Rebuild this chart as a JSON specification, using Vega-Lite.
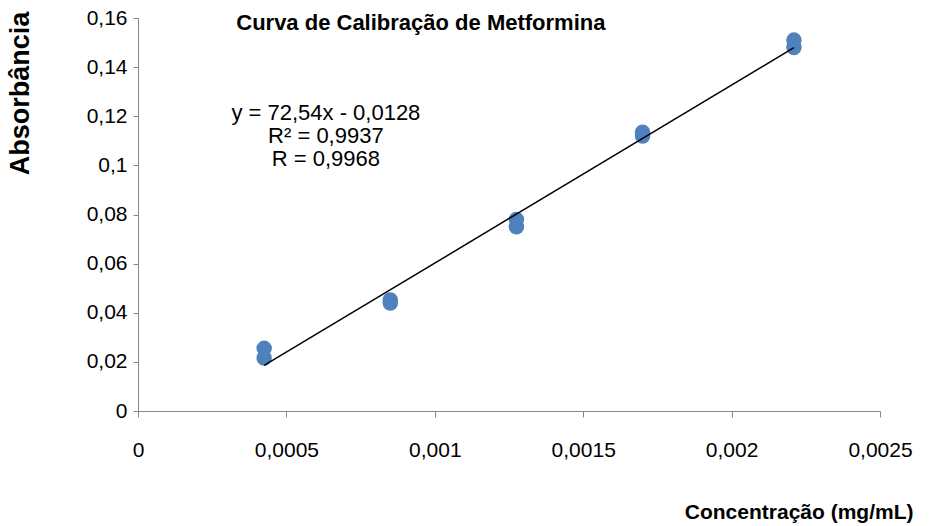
{
  "$schema": "https://vega.github.io/schema/vega-lite/v6.json",
  "autosize": {"type": "none"},
  "width": 742,
  "height": 393,
  "padding": {"left": 138, "top": 18, "right": 51, "bottom": 115},
  "background": "white",
  "config": {
    "font": "Liberation Sans",
    "view": {"stroke": null},
    "axis": {"grid": false, "domainColor": "#868686", "tickColor": "#868686", "labelColor": "#000000", "labelFont": "Liberation Sans", "labelFontSize": 21, "titleFont": "Liberation Sans", "titleFontSize": 21, "titleFontWeight": "bold", "titleColor": "#000000", "labelFlush": false, "labelOverlap": false}
  },
  "datasets": {
    "pts": [
      {"conc": 0.000425, "abs": 0.0255},
      {"conc": 0.000425, "abs": 0.0216},
      {"conc": 0.00085, "abs": 0.0452},
      {"conc": 0.00085, "abs": 0.0440},
      {"conc": 0.001275, "abs": 0.0780},
      {"conc": 0.001275, "abs": 0.0750},
      {"conc": 0.0017, "abs": 0.1135},
      {"conc": 0.0017, "abs": 0.1120},
      {"conc": 0.00221, "abs": 0.1510},
      {"conc": 0.00221, "abs": 0.1480}
    ],
    "notes": [
      {"conc": 0.000633, "abs": 0.1213, "txt": "y = 72,54x - 0,0128"},
      {"conc": 0.000633, "abs": 0.1120, "txt": "R² = 0,9937"},
      {"conc": 0.000633, "abs": 0.1026, "txt": "R = 0,9968"}
    ],
    "title": [
      {"conc": 0.000953, "abs": 0.1580, "txt": "Curva de Calibração de Metformina"}
    ]
  },
  "layer": [
    {
      "data": {"name": "pts"},
      "mark": {"type": "circle", "size": 240, "color": "#4F81BD", "opacity": 1},
      "encoding": {
        "x": {"field": "conc", "type": "quantitative", "scale": {"domain": [0, 0.0025], "nice": false},
          "axis": {"values": [0, 0.0005, 0.001, 0.0015, 0.002, 0.0025], "format": "~g", "labelExpr": "replace(datum.label, '.', ',')", "tickSize": 6, "labelPadding": 22, "title": "Concentração (mg/mL)", "titleAnchor": "end", "titleAlign": "right", "titleX": 775, "titleY": 101, "titleBaseline": "middle"}},
        "y": {"field": "abs", "type": "quantitative", "scale": {"domain": [0, 0.16], "nice": false},
          "axis": {"values": [0, 0.02, 0.04, 0.06, 0.08, 0.1, 0.12, 0.14, 0.16], "format": "~g", "labelExpr": "replace(datum.label, '.', ',')", "tickSize": 5, "labelPadding": 6, "title": "Absorbância", "titleFontSize": 27, "titleX": -118, "titleY": 75, "titleAlign": "center", "titleBaseline": "middle", "titleAngle": -90}}
      }
    },
    {
      "data": {"name": "pts"},
      "transform": [{"regression": "abs", "on": "conc", "method": "linear"}],
      "mark": {"type": "line", "color": "#000000", "strokeWidth": 1.5},
      "encoding": {
        "x": {"field": "conc", "type": "quantitative"},
        "y": {"field": "abs", "type": "quantitative"}
      }
    },
    {
      "data": {"name": "notes"},
      "mark": {"type": "text", "fontSize": 22, "align": "center", "baseline": "middle", "color": "#000000"},
      "encoding": {
        "x": {"field": "conc", "type": "quantitative"},
        "y": {"field": "abs", "type": "quantitative"},
        "text": {"field": "txt"}
      }
    },
    {
      "data": {"name": "title"},
      "mark": {"type": "text", "fontSize": 22, "fontWeight": "bold", "align": "center", "baseline": "middle", "color": "#000000"},
      "encoding": {
        "x": {"field": "conc", "type": "quantitative"},
        "y": {"field": "abs", "type": "quantitative"},
        "text": {"field": "txt"}
      }
    }
  ]
}
